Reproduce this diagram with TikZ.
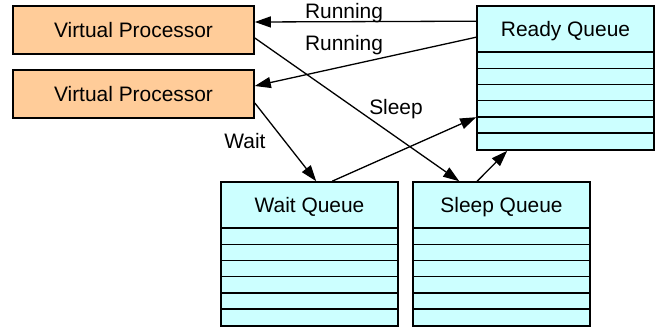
\documentclass[tikz,border=0pt]{standalone}
\usepackage{fontspec}
\setmainfont{Liberation Sans}
\usetikzlibrary{arrows.meta}
\definecolor{vpfill}{HTML}{FFCC99}
\definecolor{qfill}{HTML}{CCFFFF}
\tikzset{
  every node/.style={font=\fontsize{21}{25}\selectfont, inner sep=0pt},
  procbox/.style={draw, line width=1.6bp, fill=vpfill, minimum width=241bp, minimum height=48bp},
  queuebox/.style={draw, line width=1.6bp, fill=qfill, minimum width=177bp, minimum height=144bp},
  qtitle/.style={text depth=0pt},
  rowline/.style={line width=1.5bp},
  flow/.style={line width=1.3bp, -{Triangle[length=16bp,width=11bp]}},
  flowlabel/.style={anchor=base},
}
\newcommand{\queuerows}[1]{%
  \draw[rowline] ([yshift=-47bp]#1.north west) -- ([yshift=-47bp]#1.north east);
  \foreach \k in {1,...,5}{
    \draw[rowline] ([yshift={-47bp-\k*16.17bp}]#1.north west) -- ([yshift={-47bp-\k*16.17bp}]#1.north east);
  }%
}
\begin{document}
\begin{tikzpicture}[x=1bp,y=1bp]
\useasboundingbox (0,0) rectangle (655,329);

% virtual processors
\node[procbox] (vp1) at (133.5,299) {Virtual Processor};
\node[procbox] (vp2) at (133.5,235) {Virtual Processor};

% queues
\node[queuebox] (rq) at (565.5,251) {};
\node[queuebox] (wq) at (309.5,75) {};
\node[queuebox] (sq) at (501.5,75) {};
\queuerows{rq}
\queuerows{wq}
\queuerows{sq}
\node[qtitle] (rqt) at ([yshift=-24bp]rq.north) {Ready Queue};
\node[qtitle] (wqt) at ([yshift=-24bp]wq.north) {Wait Queue};
\node[qtitle] (sqt) at ([yshift=-24bp]sq.north) {Sleep Queue};

% transitions
\draw[flow] ([yshift=-16bp]rq.north west) -- ([yshift=8bp]vp1.east);
\draw[flow] ([yshift=-32bp]rq.north west) -- ([yshift=8bp]vp2.east);
\draw[flow] ([yshift=-8bp]vp1.east) -- ([xshift=47bp]sq.north west);
\draw[flow] ([yshift=-9bp]vp2.east) -- ([xshift=96bp]wq.north west);
\draw[flow] ([xshift=112bp]wq.north west) -- ([yshift=-112bp]rq.north west);
\draw[flow] ([xshift=65bp]sq.north west) -- ([xshift=31bp]rq.south west);

% labels
\node[flowlabel] (l1) at (344,311) {Running};
\node[flowlabel] (l2) at (344,279) {Running};
\node[flowlabel] (l3) at (396,215) {Sleep};
\node[flowlabel] (l4) at (245,181) {Wait};
\end{tikzpicture}
\end{document}
